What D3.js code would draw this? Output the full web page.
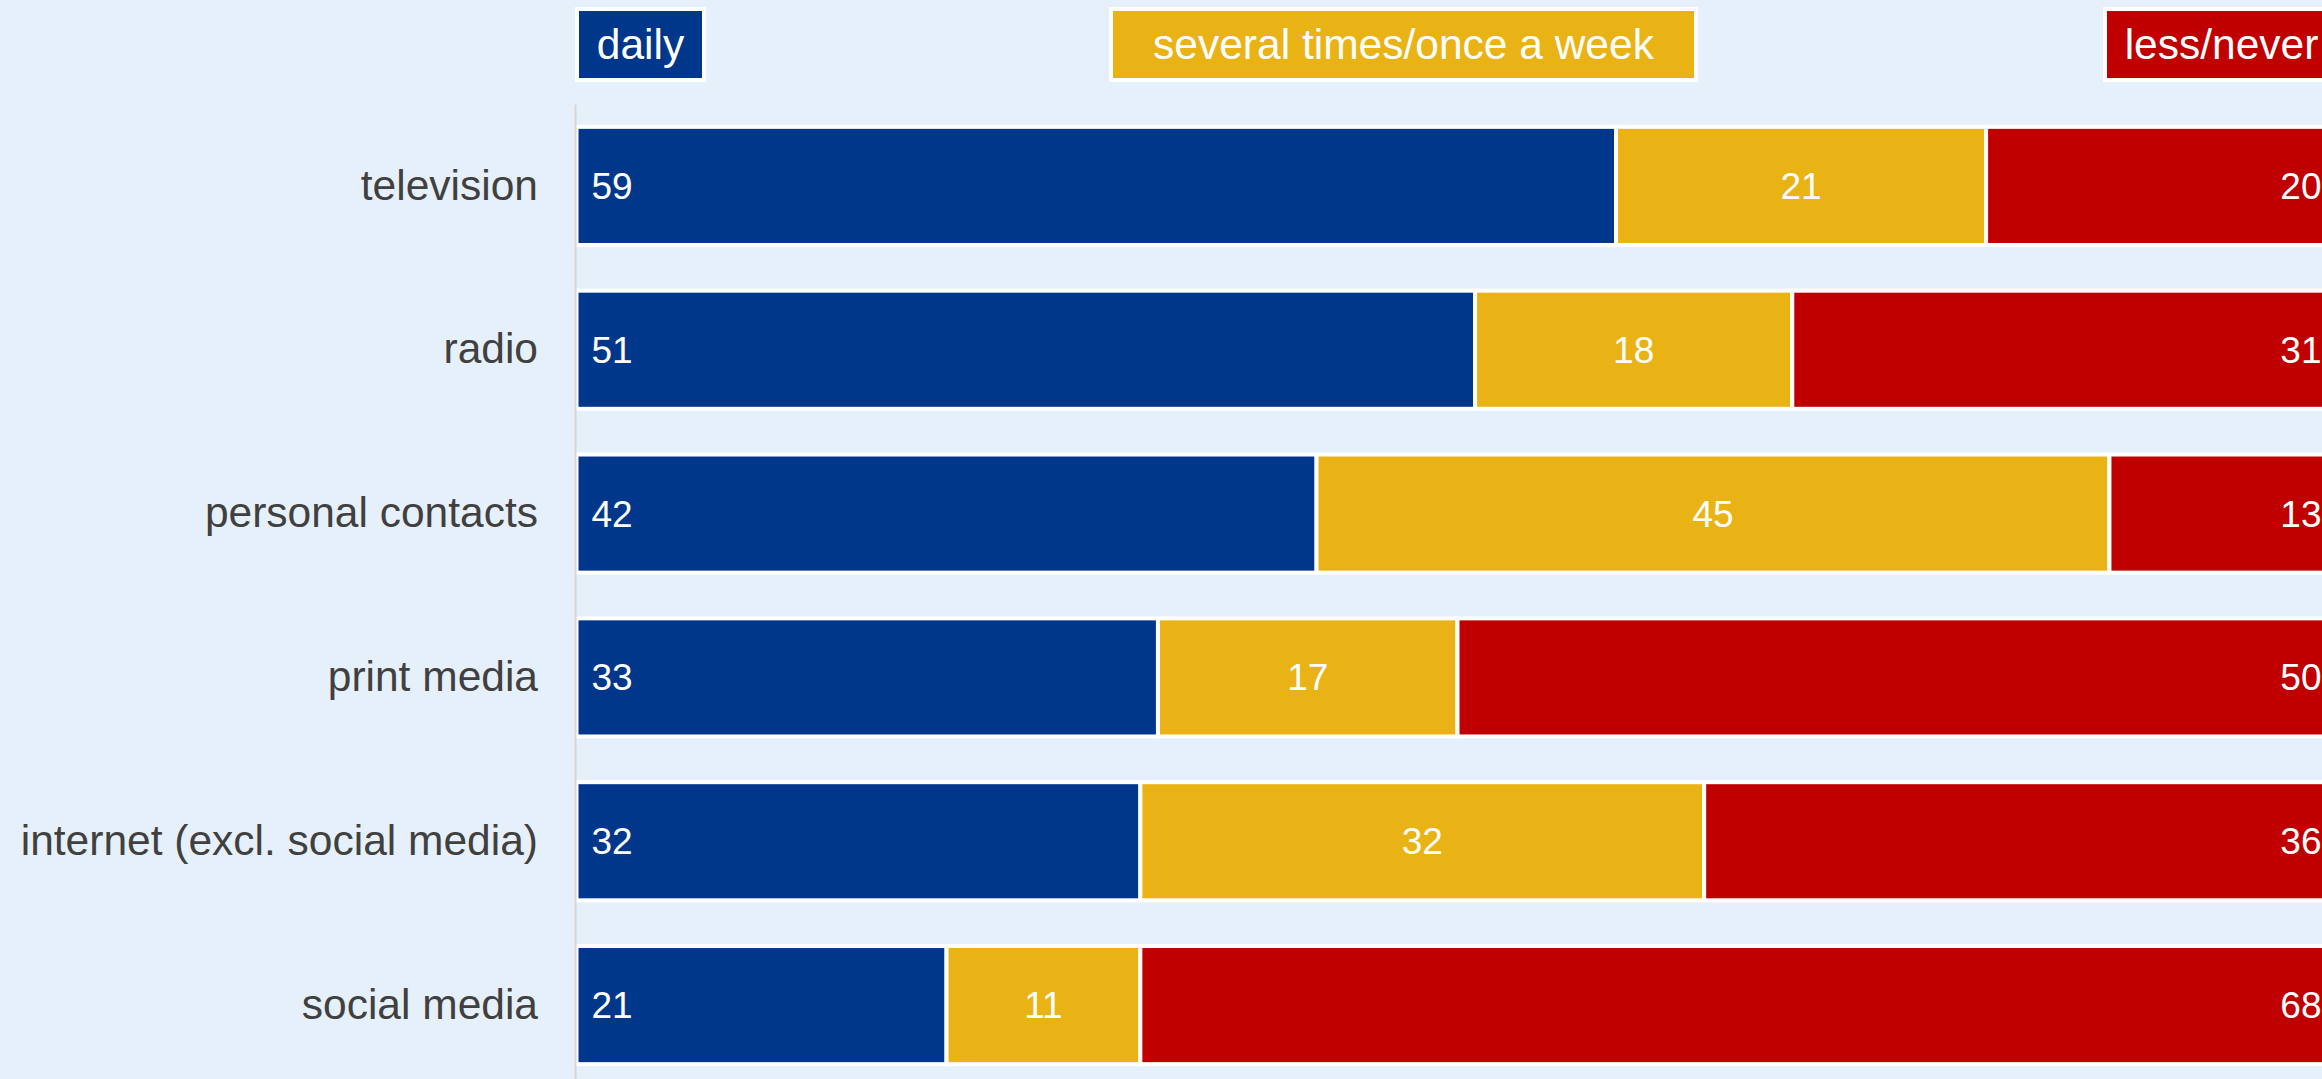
<!DOCTYPE html>
<html>
<head>
<meta charset="utf-8">
<script src="https://cdn.jsdelivr.net/npm/d3@7"></script>
<style>
  html, body { margin: 0; padding: 0; background: #e6f0fa; overflow: hidden; }
  svg { display: block; font-family: "Liberation Sans", Arial, sans-serif; }
</style>
</head>
<body>
<div id="chart"></div>
<script>
// data
var categories = ["television", "radio", "personal contacts", "print media",
                  "internet (excl. social media)", "social media"];
var seriesNames = ["daily", "several times/once a week", "less/never"];
var daily  = [59, 51, 42, 33, 32, 21];
var weekly = [21, 18, 45, 17, 32, 11];
var never  = [20, 31, 13, 50, 36, 68];
var colors = ["#00378b", "#eab315", "#c00000"];

var W = 2322, H = 1079;
var x0 = 576.5, x1 = 2338.5;

var rows = categories.map(function(c, i) {
  return { cat: c, daily: daily[i], weekly: weekly[i], never: never[i] };
});
var keys = ["daily", "weekly", "never"];

var svg = d3.select("#chart").append("svg")
    .attr("width", W)
    .attr("height", H);

var x = d3.scaleLinear().domain([0, 100]).range([x0, x1]);
var y = d3.scaleBand().domain(categories).range([104, 1087])
    .paddingInner(0.279)
    .paddingOuter(0.1395);

var stack = d3.stack().keys(keys);
var series = stack(rows);

var layer = svg.selectAll(".serie")
  .data(series)
  .enter().append("g")
    .attr("class", "serie")
    .attr("fill", function(d, i) { return colors[i]; });

layer.selectAll("rect")
  .data(function(d) { return d; })
  .enter().append("rect")
    .attr("x", function(d) { return x(d[0]); })
    .attr("y", function(d) { return y(d.data.cat); })
    .attr("width", function(d) { return x(d[1]) - x(d[0]); })
    .attr("height", y.bandwidth())
    .attr("stroke", "#fff")
    .attr("stroke-width", 4);

// value labels: first left, middle centred, last right
layer.each(function(s, si) {
  d3.select(this).selectAll("text")
    .data(s)
    .enter().append("text")
      .attr("x", function(d) {
        if (si == 0) return x(d[0]) + 15;
        if (si == 2) return x(d[1]) - 17;
        return (x(d[0]) + x(d[1])) / 2;
      })
      .attr("y", function(d) { return y(d.data.cat) + y.bandwidth() / 2; })
      .attr("dy", "0.35em")
      .attr("text-anchor", si == 0 ? "start" : si == 2 ? "end" : "middle")
      .attr("fill", "#fff")
      .style("font-size", "37px")
      .text(function(d) { return d[1] - d[0]; });
});

// category axis
var axis = svg.append("g")
    .attr("transform", "translate(" + (x0 - 1.5) + ",0)")
    .call(d3.axisLeft(y).tickSize(0).tickPadding(37));
axis.select(".domain").attr("stroke", "#d6d6d6").attr("stroke-width", 2);
axis.selectAll("text")
    .attr("fill", "#404040")
    .style("font-size", "42.5px")
    .style("font-family", "'Liberation Sans', Arial, sans-serif");

// legend boxes
var legendBox = [
  { x: 577,  w: 127 },
  { x: 1111, w: 585 },
  { x: 2105, w: 233 }
];
var legend = svg.selectAll(".legend")
  .data(seriesNames)
  .enter().append("g")
    .attr("class", "legend");

legend.append("rect")
    .attr("x", function(d, i) { return legendBox[i].x; })
    .attr("y", 9)
    .attr("width", function(d, i) { return legendBox[i].w; })
    .attr("height", 71)
    .attr("fill", function(d, i) { return colors[i]; })
    .attr("stroke", "#fff")
    .attr("stroke-width", 4);

legend.append("text")
    .attr("x", function(d, i) { return legendBox[i].x + legendBox[i].w / 2; })
    .attr("y", 44.5)
    .attr("dy", "0.35em")
    .attr("text-anchor", "middle")
    .attr("fill", "#fff")
    .style("font-size", "42.5px")
    .text(function(d) { return d; });
</script>
</body>
</html>
